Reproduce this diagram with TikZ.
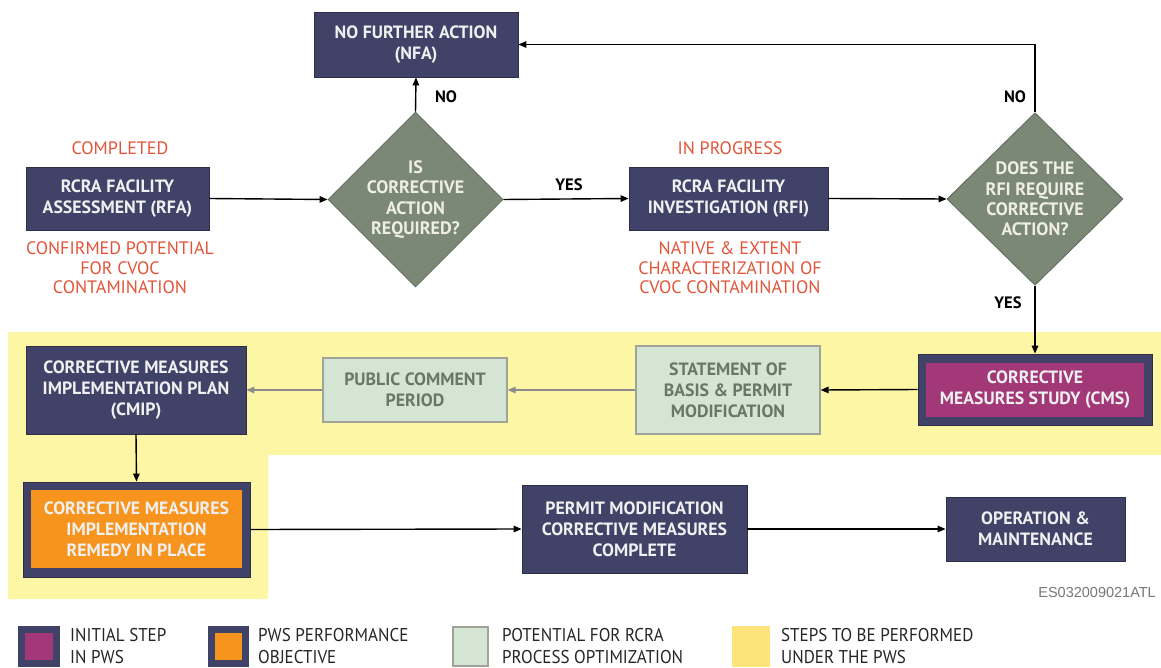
\documentclass[tikz,border=0pt]{standalone}
\usepackage{fontspec}
\setmainfont{PT Sans}
\newfontfamily\legendfont[FakeStretch=0.92]{PT Sans}
\newfontfamily\codefont{Liberation Sans}
\usetikzlibrary{shapes.geometric,arrows.meta}
\definecolor{navy}{RGB}{64,66,104}
\definecolor{navyedge}{RGB}{45,46,72}
\definecolor{sage}{RGB}{123,136,118}
\definecolor{sageedge}{RGB}{95,105,92}
\definecolor{paleyellow}{RGB}{253,247,165}
\definecolor{paleyellowL}{RGB}{252,228,122}
\definecolor{palegreen}{RGB}{212,229,211}
\definecolor{greenedge}{RGB}{160,164,152}
\definecolor{greentext}{RGB}{105,120,100}
\definecolor{plum}{RGB}{162,56,120}
\definecolor{orangefill}{RGB}{247,148,30}
\definecolor{redtext}{RGB}{226,85,58}
\definecolor{whitetext}{RGB}{240,240,240}
\definecolor{creamtext}{RGB}{238,238,228}
\definecolor{grayline}{RGB}{140,140,140}
\definecolor{codegray}{RGB}{120,120,120}
\begin{document}
\begin{tikzpicture}[x=1pt,y=-1pt,
  boxfont/.style={font=\fontsize{17.8}{21}\selectfont\bfseries},
  navybox/.style={boxfont,rectangle,fill=navy,draw=navyedge,line width=0.8pt,text=whitetext,align=center,inner sep=0pt},
  diam/.style={font=\fontsize{18}{20.3}\selectfont\bfseries,diamond,fill=sage,draw=sageedge,line width=0.8pt,text=creamtext,align=center,inner sep=0pt},
  greenbox/.style={boxfont,rectangle,fill=palegreen,draw=greenedge,line width=1.2pt,text=greentext,align=center,inner sep=0pt},
  note/.style={font=\fontsize{18}{19.5}\selectfont,text=redtext,align=center,inner sep=0pt},
  lbl/.style={font=\fontsize{16.5}{18}\selectfont\bfseries,text=black,inner sep=0pt},
  arr/.style={draw=black,line width=1.4pt,-{Triangle[length=8pt,width=6.5pt]}},
  grayarr/.style={draw=grayline,line width=1.4pt,-{Triangle[length=8pt,width=6.5pt]}},
  legtext/.style={font=\legendfont\fontsize{18.5}{22}\selectfont,anchor=west,align=left,inner sep=0pt,text=black!85}
]
\useasboundingbox (0,0) rectangle (1161,668);
\fill[white] (0,0) rectangle (1161,668);

% yellow region
\fill[paleyellow] (8,332) -- (1161,332) -- (1161,455) -- (268,455) -- (268,599) -- (8,599) -- cycle;

% top row
\node[navybox,minimum width=204pt,minimum height=65pt] (nfa) at (416,44.5) {NO FURTHER ACTION\\(NFA)};
\node[navybox,minimum width=183pt,minimum height=63pt] (rfa) at (117.5,198.5) {RCRA FACILITY\\ASSESSMENT (RFA)};
\node[diam,minimum width=175pt,minimum height=173pt] (d1) at (415.5,199.5) {IS\\CORRECTIVE\\ACTION\\REQUIRED?};
\node[navybox,minimum width=199pt,minimum height=63pt] (rfi) at (728.5,198.5) {RCRA FACILITY\\INVESTIGATION (RFI)};
\node[diam,minimum width=176pt,minimum height=172pt] (d2) at (1035,199) {DOES THE\\RFI REQUIRE\\CORRECTIVE\\ACTION?};

\node[note] (completed) at (120,148) {COMPLETED};
\node[note] (confirmed) at (120,268) {CONFIRMED POTENTIAL\\FOR CVOC\\CONTAMINATION};
\node[note] (inprogress) at (730,148) {IN PROGRESS};
\node[note] (native) at (730,268) {NATIVE \& EXTENT\\CHARACTERIZATION OF\\CVOC CONTAMINATION};

% middle row
\node[navybox,minimum width=234pt,minimum height=71pt] (cms) at (1035,389.5) {};
\fill[plum] (926,363) rectangle (1144,417);
\node[boxfont,text=whitetext,align=center] (cmstext) at (1035,390) {CORRECTIVE\\MEASURES STUDY (CMS)};
\node[greenbox,minimum width=184pt,minimum height=88pt] (stmt) at (728,390) {STATEMENT OF\\BASIS \& PERMIT\\MODIFICATION};
\node[greenbox,minimum width=184pt,minimum height=64pt] (pub) at (415,390) {PUBLIC COMMENT\\PERIOD};
\node[navybox,minimum width=220pt,minimum height=88pt] (cmip) at (136,390) {CORRECTIVE MEASURES\\IMPLEMENTATION PLAN\\(CMIP)};

% bottom row
\node[navybox,minimum width=227pt,minimum height=95pt] (remedy) at (136.5,529.5) {};
\fill[orangefill] (31,490) rectangle (242,568);
\node[boxfont,text=whitetext,align=center] (remedytext) at (136.5,529.5) {CORRECTIVE MEASURES\\IMPLEMENTATION\\REMEDY IN PLACE};
\node[navybox,minimum width=225pt,minimum height=88pt] (permit) at (634.5,529) {PERMIT MODIFICATION\\CORRECTIVE MEASURES\\COMPLETE};
\node[navybox,minimum width=179pt,minimum height=64pt] (om) at (1035.5,529) {OPERATION \&\\MAINTENANCE};

\node[font=\codefont\fontsize{14.5}{16}\selectfont,text=codegray,anchor=east,inner sep=0pt] (code) at (1156,593) {ES032009021ATL};

% connectors
\draw[arr] (rfa.east) -- (d1.west);
\draw[arr] (d1.north) -- (nfa.south);
\node[lbl] (no1) at (446,97) {NO};
\draw[arr] (d1.east) -- (rfi.west);
\node[lbl] (yes1) at (569,185) {YES};
\draw[arr] (rfi.east) -- (d2.west);
\draw[arr] (d2.north) |- (nfa.east);
\node[lbl] (no2) at (1015,97) {NO};
\draw[arr] (d2.south) -- (cms.north);
\node[lbl] (yes2) at (1008,303) {YES};
\draw[arr] (cms.west) -- (stmt.east);
\draw[grayarr] (stmt.west) -- (pub.east);
\draw[grayarr] (pub.west) -- (cmip.east);
\draw[arr] (cmip.south) -- (remedy.north);
\draw[arr] (remedy.east) -- (permit.west);
\draw[arr] (permit.east) -- (om.west);

% legend
\fill[navy] (18,626) rectangle (60,667);
\fill[plum] (25,633) rectangle (53,660);
\node[legtext] (leg1) at (70,646) {INITIAL STEP\\IN PWS};
\fill[navy] (208,626) rectangle (249,667);
\fill[orangefill] (215,633) rectangle (242,660);
\node[legtext] (leg2) at (258,646) {PWS PERFORMANCE\\OBJECTIVE};
\filldraw[fill=palegreen,draw=greenedge,line width=1.5pt] (453,627) rectangle (488,666);
\node[legtext] (leg3) at (502,646) {POTENTIAL FOR RCRA\\PROCESS OPTIMIZATION};
\fill[paleyellowL] (732,626) rectangle (770,667);
\node[legtext] (leg4) at (781,646) {STEPS TO BE PERFORMED\\UNDER THE PWS};
\end{tikzpicture}
\end{document}
